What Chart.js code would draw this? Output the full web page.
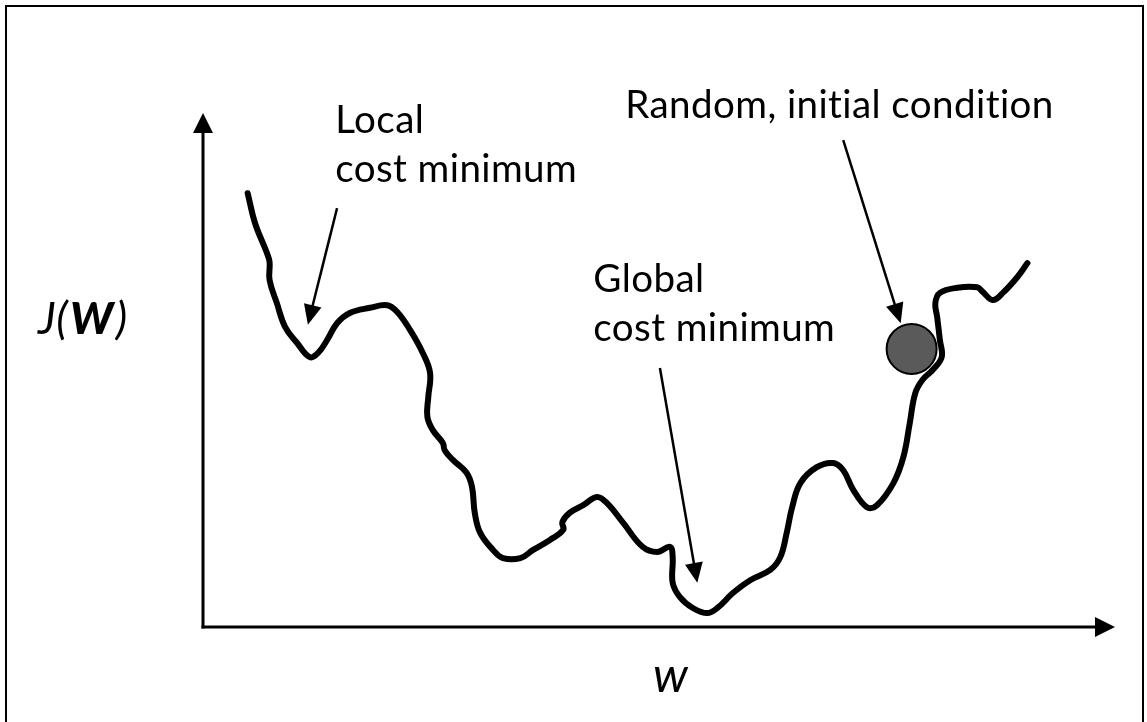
<!DOCTYPE html>
<html>
<head>
<meta charset="utf-8">
<script src="https://cdn.jsdelivr.net/npm/chart.js@4.4.1/dist/chart.umd.min.js"></script>
<style>
  html, body { margin: 0; padding: 0; background: #fff; }
</style>
</head>
<body>
<canvas id="cost_chart" width="1147" height="722"></canvas>
<script>
// cost curve J(w) (axis units 0..10 on both axes)
const wValues = [0.49, 0.57, 0.70, 0.73, 0.73, 0.81, 0.90, 1.03, 1.17, 1.26, 1.36, 1.47, 1.61, 1.83, 2.02,
  2.13, 2.27, 2.41, 2.49, 2.47, 2.46, 2.52, 2.63, 2.65, 2.74, 2.89, 2.95, 2.98, 3.04, 3.18, 3.29, 3.48,
  3.62, 3.80, 3.95, 3.94, 4.02, 4.17, 4.32, 4.43, 4.61, 4.82, 4.98, 5.12, 5.15, 5.15, 5.23, 5.37, 5.53,
  5.64, 5.81, 6.00, 6.22, 6.33, 6.40, 6.46, 6.55, 6.73, 6.91, 7.02, 7.13, 7.28, 7.39, 7.57, 7.68, 7.75,
  7.81, 7.89, 8.00, 8.10, 8.08, 8.05, 8.03, 8.08, 8.27, 8.49, 8.55, 8.66, 8.77, 8.93, 9.04];
const jValues = [8.44, 7.86, 7.28, 7.10, 6.75, 6.30, 5.84, 5.53, 5.25, 5.33, 5.58, 5.91, 6.11, 6.21, 6.26,
  6.13, 5.78, 5.33, 4.94, 4.47, 4.09, 3.83, 3.58, 3.44, 3.25, 3.00, 2.72, 2.22, 1.83, 1.50, 1.34, 1.34,
  1.50, 1.69, 1.89, 2.04, 2.22, 2.37, 2.53, 2.41, 2.02, 1.56, 1.46, 1.56, 1.36, 0.86, 0.58, 0.37, 0.27,
  0.37, 0.66, 0.91, 1.11, 1.36, 1.83, 2.33, 2.80, 3.11, 3.19, 3.05, 2.67, 2.33, 2.37, 2.80, 3.31, 3.97,
  4.55, 4.81, 5.00, 5.25, 5.58, 6.03, 6.30, 6.50, 6.60, 6.61, 6.52, 6.36, 6.50, 6.81, 7.08];

// starting point (the ball)
const startW = [7.77];
const startJ = [5.41];

// annotations: text lines, text anchor (left, baseline of first line), arrow from -> to
const noteLines = [["Local", "cost minimum"], ["Global", "cost minimum"], ["Random, initial condition"]];
const noteAt = [[1.45, 9.61], [4.28, 6.52], [4.63, 9.90]];
const arrowFrom = [[1.47, 8.15], [5.01, 5.04], [7.02, 9.47]];
const arrowTo = [[1.15, 5.88], [5.42, 0.86], [7.65, 5.91]];

const axisMax = 10;

function arrowHead(c, x0, y0, x1, y1, len, half) {
  const a = Math.atan2(y1 - y0, x1 - x0);
  c.beginPath();
  c.moveTo(x1, y1);
  c.lineTo(x1 - len * Math.cos(a) + half * Math.sin(a), y1 - len * Math.sin(a) - half * Math.cos(a));
  c.lineTo(x1 - len * Math.cos(a) - half * Math.sin(a), y1 - len * Math.sin(a) + half * Math.cos(a));
  c.closePath();
  c.fill();
}

function arrow(c, x0, y0, x1, y1, width, len, half) {
  const a = Math.atan2(y1 - y0, x1 - x0);
  c.lineWidth = width;
  c.beginPath();
  c.moveTo(x0, y0);
  c.lineTo(x1 - (len - 2) * Math.cos(a), y1 - (len - 2) * Math.sin(a));
  c.stroke();
  arrowHead(c, x0, y0, x1, y1, len, half);
}

const sketchPlugin = {
  id: "sketch",
  beforeDatasetsDraw(chart) {
    const c = chart.ctx;
    const xs = chart.scales.x, ys = chart.scales.y;
    c.save();
    c.strokeStyle = "#000";
    c.fillStyle = "#000";
    // frame (top, left, right)
    c.lineWidth = 2;
    c.beginPath();
    c.moveTo(6, chart.height);
    c.lineTo(6, 6);
    c.lineTo(chart.width - 4, 6);
    c.lineTo(chart.width - 4, chart.height);
    c.stroke();
    // axes with arrowheads
    const ox = xs.getPixelForValue(0), oy = ys.getPixelForValue(0);
    arrow(c, ox, oy + 1.5, ox, ys.getPixelForValue(axisMax), 3, 20, 10);
    arrow(c, ox - 1.5, oy, xs.getPixelForValue(axisMax), oy, 3, 20, 10);
    c.restore();
  },
  afterDatasetsDraw(chart) {
    const c = chart.ctx;
    const xs = chart.scales.x, ys = chart.scales.y;
    c.save();
    c.fillStyle = "#000";
    c.strokeStyle = "#000";
    c.textBaseline = "alphabetic";
    c.textAlign = "left";
    c.letterSpacing = "0.4px"; // also keeps Lato from joining "ti"
    // size the text so "cost minimum" spans the same width as in the sketch
    c.font = "40px Lato";
    const size = 40 * 242 / c.measureText("cost minimum").width;
    c.font = size.toFixed(1) + "px Lato";
    noteLines.forEach((lines, i) => {
      const x = xs.getPixelForValue(noteAt[i][0]);
      const y = ys.getPixelForValue(noteAt[i][1]);
      lines.forEach((t, k) => c.fillText(t, x, y + k * 49));
      arrow(c, xs.getPixelForValue(arrowFrom[i][0]), ys.getPixelForValue(arrowFrom[i][1]),
        xs.getPixelForValue(arrowTo[i][0]), ys.getPixelForValue(arrowTo[i][1]), 2.5, 20, 9);
    });
    // axis titles
    let x = 38;
    const yb = 334;
    const tSize = (size * 1.15).toFixed(1);
    const parts = [["italic", "J("], ["italic 900", "W"], ["italic", ")"]];
    parts.forEach(([st, t]) => {
      c.font = st + " " + tSize + "px Lato";
      c.fillText(t, x, yb);
      x += c.measureText(t).width + 2;
    });
    c.font = "italic " + (size * 1.25).toFixed(1) + "px Lato";
    c.fillText("w", 653, 692);
    c.restore();
  },
};

const ctx = document.getElementById("cost_chart");
const costChart = new Chart(ctx, {
  type: "scatter",
  data: {
    datasets: [
      {
        label: "Random, initial condition",
        data: startW.map((w, i) => ({ x: w, y: startJ[i] })),
        pointRadius: 25,
        pointHoverRadius: 25,
        backgroundColor: "#5a5a5a",
        borderColor: "#000",
        borderWidth: 2,
        showLine: false,
        order: 0,
      },
      {
        label: "J(W)",
        data: wValues.map((w, i) => ({ x: w, y: jValues[i] })),
        showLine: true,
        pointRadius: 0,
        borderColor: "#000",
        borderWidth: 6,
        tension: 0.4,
        borderCapStyle: "round",
        borderJoinStyle: "round",
        fill: false,
        order: 1,
      },
    ],
  },
  options: {
    responsive: false,
    animation: false,
    events: [],
    layout: { padding: { left: 203, right: 32, top: 113, bottom: 95 } },
    plugins: { legend: { display: false }, tooltip: { enabled: false } },
    scales: {
      x: { type: "linear", min: 0, max: axisMax, display: false },
      y: { type: "linear", min: 0, max: axisMax, display: false },
    },
  },
  plugins: [sketchPlugin],
});
</script>
</body>
</html>
